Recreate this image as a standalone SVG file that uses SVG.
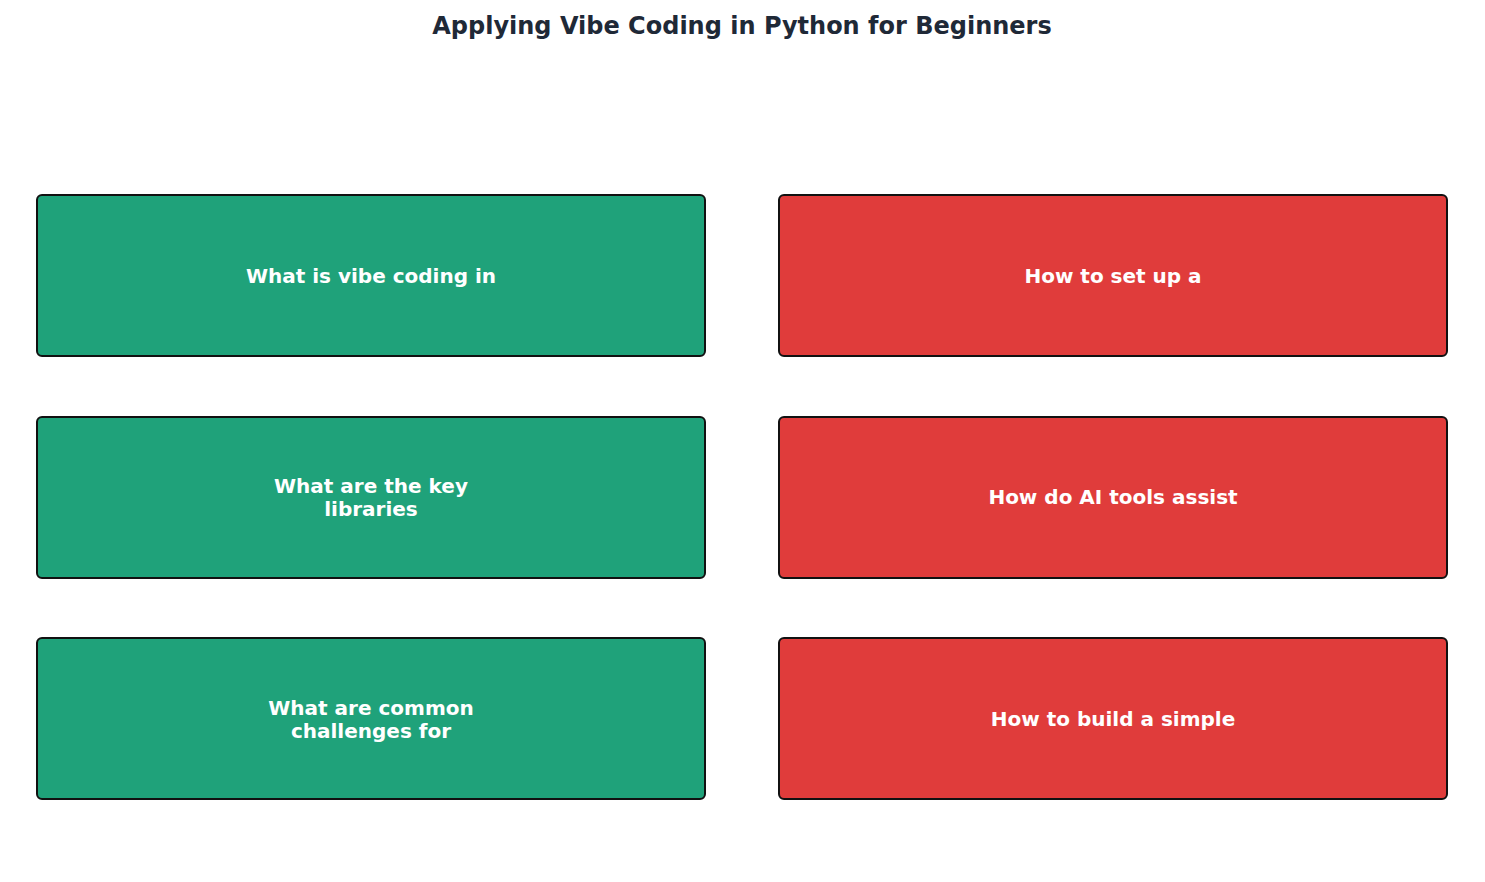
<svg xmlns="http://www.w3.org/2000/svg" width="1485" height="882" viewBox="0 0 1485 882">
<style>
.g{fill:#1fa27a;stroke:#111;stroke-width:2}
.r{fill:#e03c3b;stroke:#111;stroke-width:2}
.t{font-family:"DejaVu Sans",sans-serif;font-weight:bold;font-size:20px;fill:#fff;text-anchor:middle}
</style>
<rect width="1485" height="882" fill="#fff"/>
<text x="742" y="34" font-family="DejaVu Sans, sans-serif" font-weight="bold" font-size="24" fill="#1f2937" text-anchor="middle">Applying Vibe Coding in Python for Beginners</text>
<g id="n1"><rect class="g" x="37" y="195" width="668" height="161" rx="5"/><text class="t" x="371" y="283">What is vibe coding in</text></g>
<g id="n2"><rect class="r" x="779" y="195" width="668" height="161" rx="5"/><text class="t" x="1113" y="283">How to set up a</text></g>
<g id="n3"><rect class="g" x="37" y="417" width="668" height="161" rx="5"/><text class="t" x="371" y="493">What are the key</text><text class="t" x="371" y="516">libraries</text></g>
<g id="n4"><rect class="r" x="779" y="417" width="668" height="161" rx="5"/><text class="t" x="1113" y="504">How do AI tools assist</text></g>
<g id="n5"><rect class="g" x="37" y="638" width="668" height="161" rx="5"/><text class="t" x="371" y="715">What are common</text><text class="t" x="371" y="738">challenges for</text></g>
<g id="n6"><rect class="r" x="779" y="638" width="668" height="161" rx="5"/><text class="t" x="1113" y="726">How to build a simple</text></g>
<g id="connectors"/>
</svg>
